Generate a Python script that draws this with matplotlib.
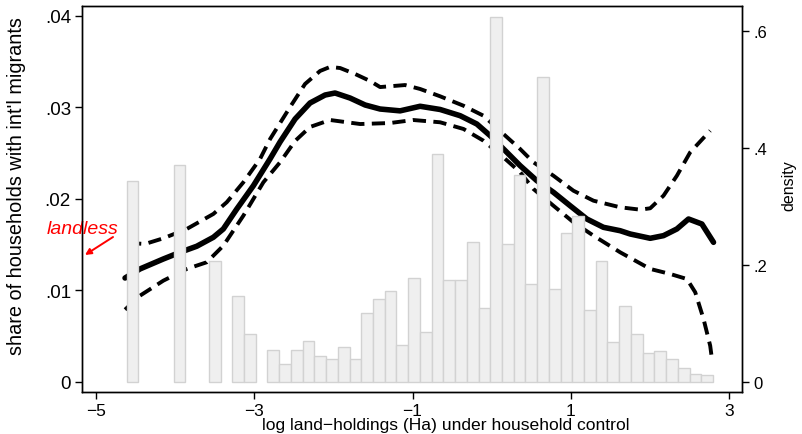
import numpy as np
import matplotlib
matplotlib.use("Agg")
import matplotlib.pyplot as plt

plt.rcParams['font.family'] = ['Liberation Sans', 'DejaVu Sans']

# ---- histogram of log land-holdings (density, right axis) ----
bin_start = -4.612
bin_width = 0.1482
hist_density = [0.344, 0, 0, 0, 0.372, 0, 0, 0.207, 0, 0.1475,
                0.083, 0, 0.056, 0.032, 0.056, 0.071, 0.0456, 0.0405, 0.061, 0.039,
                0.118, 0.142, 0.1556, 0.0644, 0.179, 0.0867, 0.391, 0.174, 0.174, 0.239,
                0.1265, 0.625, 0.236, 0.354, 0.1675, 0.522, 0.1595, 0.2547, 0.284, 0.1236,
                0.208, 0.0689, 0.1305, 0.082, 0.0508, 0.0535, 0.0393, 0.0239, 0.0137, 0.0125]

# ---- local polynomial fit: share with int'l migrants (left axis) ----
fit_x = [-4.633, -4.444, -4.149, -3.938, -3.727, -3.517, -3.391, -3.221, -3.011, -2.801,
         -2.674, -2.484, -2.295, -2.105, -1.979, -1.789, -1.599, -1.410, -1.157, -0.904,
         -0.651, -0.398, -0.187, -0.019, 0.192, 0.360, 0.571, 0.781, 0.992, 1.203,
         1.413, 1.624, 1.751, 2.004, 2.172, 2.341, 2.488, 2.657, 2.804]
fit_y = [0.01133, 0.01232, 0.01341, 0.01414, 0.01480, 0.01578, 0.01669, 0.01887, 0.02142, 0.02434,
         0.02620, 0.02871, 0.03046, 0.03133, 0.03155, 0.03100, 0.03024, 0.02980, 0.02960, 0.03010,
         0.02975, 0.02907, 0.02816, 0.02689, 0.02507, 0.02361, 0.02197, 0.02070, 0.01923, 0.01778,
         0.01687, 0.01650, 0.01614, 0.01567, 0.01596, 0.01669, 0.01778, 0.01723, 0.01523]

upper_x = [-4.595, -4.381, -4.149, -3.853, -3.517, -3.348, -3.138, -2.927, -2.800, -2.547,
           -2.358, -2.168, -2.042, -1.915, -1.726, -1.536, -1.410, -1.094, -0.904, -0.651,
           -0.356, -0.104, 0.149, 0.360, 0.528, 0.781, 1.034, 1.287, 1.624, 1.877,
           2.004, 2.172, 2.341, 2.509, 2.762]
upper_y = [0.01516, 0.01505, 0.01567, 0.01669, 0.01833, 0.01961, 0.02179, 0.02434, 0.02652, 0.03002,
           0.03254, 0.03396, 0.03440, 0.03428, 0.03363, 0.03286, 0.03220, 0.03242, 0.03199, 0.03119,
           0.03016, 0.02907, 0.02707, 0.02543, 0.02398, 0.02251, 0.02087, 0.01978, 0.01906, 0.01880,
           0.01895, 0.02033, 0.02251, 0.02507, 0.02743]

lower_x = [-4.633, -4.444, -4.149, -3.853, -3.601, -3.391, -3.138, -2.885, -2.674, -2.484,
           -2.295, -2.042, -1.662, -1.283, -0.992, -0.651, -0.356, -0.104, 0.149, 0.360,
           0.528, 0.781, 1.034, 1.287, 1.624, 2.004, 2.257, 2.468, 2.573, 2.678,
           2.762, 2.784]
lower_y = [0.00787, 0.00940, 0.01104, 0.01232, 0.01305, 0.01486, 0.01814, 0.02179, 0.02398, 0.02631,
           0.02784, 0.02860, 0.02816, 0.02827, 0.02860, 0.02835, 0.02762, 0.02634, 0.02452, 0.02289,
           0.02106, 0.01923, 0.01742, 0.01596, 0.01414, 0.01232, 0.01177, 0.01122, 0.00977, 0.00685,
           0.00393, 0.00248]

x_ticks = [-5, -3, -1, 1, 3]
x_ticklabels = ['\u22125', '\u22123', '\u22121', '1', '3']
left_ticks = [0, 0.01, 0.02, 0.03, 0.04]
left_ticklabels = ['0', '.01', '.02', '.03', '.04']
right_ticks = [0, 0.2, 0.4, 0.6]
right_ticklabels = ['0', '.2', '.4', '.6']

fig = plt.figure(figsize=(8.02, 4.35), dpi=100)
ax = fig.add_axes([82 / 802, 1 - 393 / 435, 660 / 802, 386 / 435])
ax2 = ax.twinx()

# lines on the left axis
ax.plot(fit_x, fit_y, color='black', lw=4.0, solid_capstyle='round', solid_joinstyle='round', zorder=3)
ax.plot(upper_x, upper_y, color='black', lw=2.8, linestyle=(0, (3.4, 1.9)), zorder=3)
ax.plot(lower_x, lower_y, color='black', lw=2.8, linestyle=(0, (3.4, 1.9)), zorder=3)

# histogram on top (right axis)
dens = np.array(hist_density)
lefts = bin_start + bin_width * np.arange(len(dens))
mask = dens > 0
ax2.bar(lefts[mask], dens[mask], width=bin_width, align='edge',
        facecolor='#efefef', edgecolor='#d2d2d2', linewidth=1.0)

ax.set_xlim(-5.177, 3.164)
ax.set_ylim(-0.00113, 0.04106)
ax2.set_ylim(-0.0166, 0.6432)

ax.set_xticks(x_ticks)
ax.set_xticklabels(x_ticklabels)
ax.set_yticks(left_ticks)
ax.set_yticklabels(left_ticklabels)
ax2.set_yticks(right_ticks)
ax2.set_yticklabels(right_ticklabels)

for a in (ax, ax2):
    a.tick_params(axis='both', length=5, width=1, pad=3, color='black')
    for s in a.spines.values():
        s.set_linewidth(1.0)
ax.tick_params(axis='x', labelsize=12.5)
ax.tick_params(axis='y', labelsize=13.5)
ax2.tick_params(axis='y', labelsize=12)

ax.set_xlabel("log land\u2212holdings (Ha) under household control", fontsize=12.6)
ax.xaxis.set_label_coords(0.551, -0.064)
ax.set_ylabel("share of households with int'l migrants", fontsize=14.3)
ax.yaxis.set_label_coords(-0.085, 0.536)
ax2.set_ylabel("density", fontsize=11.5, rotation=90)
ax2.yaxis.set_label_coords(1.060, 0.536)

# "landless" label with arrow
ax.text(-5.164, 0.01669, 'landless', color='red', fontsize=14, style='italic',
        ha='center', va='center', clip_on=False)
ax.annotate('', xy=(-5.139, 0.01385), xytext=(-4.785, 0.01581),
            annotation_clip=False,
            arrowprops=dict(arrowstyle='-|>', color='red', lw=1.4,
                            shrinkA=0, shrinkB=0, mutation_scale=9))

fig.savefig('out.png', dpi=100)
